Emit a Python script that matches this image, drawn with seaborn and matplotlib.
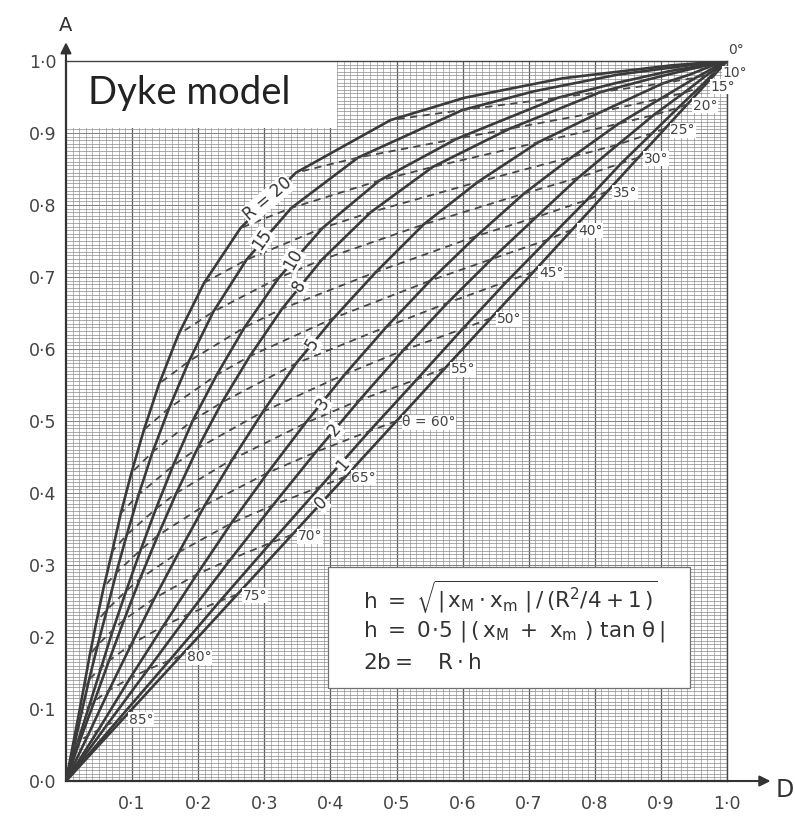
import numpy as np
import pandas as pd
import matplotlib
matplotlib.use('Agg')
import matplotlib.pyplot as plt
from matplotlib.patches import Rectangle
from matplotlib.ticker import MultipleLocator
import seaborn as sns

# dip angle theta (deg) of every point on the R curves
theta_deg = [0, 2.5, 5, 7.5, 10, 15, 20, 25, 30, 35, 40, 45, 50, 55, 60, 65, 70, 75, 80, 85, 90]
# theta lines that are drawn dashed and labelled
theta_lines = [10, 15, 20, 25, 30, 35, 40, 45, 50, 55, 60, 65, 70, 75, 80, 85]
r_values = [0, 1, 2, 3, 5, 8, 10, 15, 20]

d_r0 = [1.0, 0.999, 0.996, 0.991, 0.985, 0.966, 0.940, 0.906, 0.866, 0.819, 0.766, 0.707, 0.643, 0.574, 0.500, 0.423, 0.342, 0.259, 0.174, 0.087, 0.0]
a_r0 = [1.0, 0.999, 0.996, 0.991, 0.985, 0.966, 0.940, 0.906, 0.866, 0.819, 0.766, 0.707, 0.643, 0.574, 0.500, 0.423, 0.342, 0.259, 0.174, 0.087, 0.0]
d_r1 = [1.0, 0.999, 0.995, 0.989, 0.981, 0.958, 0.926, 0.887, 0.840, 0.788, 0.729, 0.667, 0.600, 0.531, 0.459, 0.385, 0.310, 0.233, 0.156, 0.078, 0.0]
a_r1 = [1.0, 0.999, 0.996, 0.991, 0.984, 0.963, 0.935, 0.900, 0.858, 0.807, 0.752, 0.694, 0.628, 0.558, 0.486, 0.409, 0.331, 0.250, 0.167, 0.084, 0.0]
d_r2 = [1.0, 0.998, 0.992, 0.983, 0.970, 0.935, 0.889, 0.835, 0.775, 0.711, 0.644, 0.577, 0.510, 0.444, 0.378, 0.313, 0.249, 0.186, 0.124, 0.062, 0.0]
a_r2 = [1.0, 0.999, 0.996, 0.989, 0.981, 0.956, 0.925, 0.884, 0.838, 0.783, 0.725, 0.664, 0.598, 0.529, 0.457, 0.383, 0.308, 0.232, 0.155, 0.078, 0.0]
d_r3 = [1.0, 0.997, 0.988, 0.973, 0.953, 0.900, 0.836, 0.766, 0.693, 0.621, 0.551, 0.485, 0.422, 0.362, 0.305, 0.250, 0.198, 0.147, 0.097, 0.049, 0.0]
a_r3 = [1.0, 0.999, 0.995, 0.987, 0.977, 0.948, 0.913, 0.867, 0.816, 0.757, 0.695, 0.631, 0.565, 0.497, 0.428, 0.358, 0.287, 0.215, 0.143, 0.071, 0.0]
d_r5 = [1.0, 0.993, 0.973, 0.943, 0.903, 0.811, 0.714, 0.623, 0.541, 0.469, 0.405, 0.348, 0.298, 0.252, 0.210, 0.171, 0.134, 0.099, 0.065, 0.033, 0.0]
a_r5 = [1.0, 0.998, 0.992, 0.981, 0.969, 0.930, 0.887, 0.832, 0.773, 0.707, 0.643, 0.580, 0.513, 0.447, 0.383, 0.318, 0.254, 0.190, 0.126, 0.063, 0.0]
d_r8 = [1.0, 0.984, 0.941, 0.879, 0.809, 0.671, 0.555, 0.461, 0.387, 0.327, 0.278, 0.236, 0.199, 0.167, 0.139, 0.112, 0.088, 0.065, 0.043, 0.021, 0.0]
a_r8 = [1.0, 0.997, 0.988, 0.974, 0.957, 0.906, 0.853, 0.790, 0.724, 0.656, 0.590, 0.526, 0.462, 0.400, 0.341, 0.281, 0.224, 0.167, 0.111, 0.056, 0.0]
d_r10 = [1.0, 0.976, 0.913, 0.830, 0.744, 0.591, 0.474, 0.388, 0.322, 0.270, 0.228, 0.192, 0.162, 0.136, 0.113, 0.091, 0.071, 0.053, 0.035, 0.017, 0.0]
a_r10 = [1.0, 0.996, 0.986, 0.969, 0.949, 0.892, 0.834, 0.768, 0.699, 0.630, 0.564, 0.501, 0.438, 0.378, 0.321, 0.264, 0.210, 0.157, 0.104, 0.052, 0.0]
d_r15 = [1.0, 0.950, 0.834, 0.708, 0.600, 0.442, 0.341, 0.273, 0.223, 0.186, 0.156, 0.131, 0.110, 0.092, 0.076, 0.062, 0.048, 0.035, 0.023, 0.012, 0.0]
a_r15 = [1.0, 0.995, 0.981, 0.958, 0.932, 0.866, 0.796, 0.724, 0.652, 0.583, 0.518, 0.457, 0.398, 0.342, 0.289, 0.238, 0.189, 0.141, 0.093, 0.047, 0.0]
d_r20 = [1.0, 0.916, 0.751, 0.603, 0.491, 0.348, 0.264, 0.209, 0.170, 0.141, 0.118, 0.099, 0.083, 0.070, 0.057, 0.046, 0.036, 0.027, 0.018, 0.009, 0.0]
a_r20 = [1.0, 0.994, 0.976, 0.949, 0.918, 0.845, 0.768, 0.692, 0.620, 0.552, 0.488, 0.428, 0.372, 0.319, 0.269, 0.221, 0.175, 0.130, 0.086, 0.043, 0.0]

x_ticks = [0.1, 0.2, 0.3, 0.4, 0.5, 0.6, 0.7, 0.8, 0.9, 1.0]
x_tick_labels = ['0·1', '0·2', '0·3', '0·4', '0·5', '0·6', '0·7', '0·8', '0·9', '1·0']
y_ticks = [0.0, 0.1, 0.2, 0.3, 0.4, 0.5, 0.6, 0.7, 0.8, 0.9, 1.0]
y_tick_labels = ['0·0', '0·1', '0·2', '0·3', '0·4', '0·5', '0·6', '0·7', '0·8', '0·9', '1·0']

# long table: one row per (R, theta) node of the nomogram
d_curves = [d_r0, d_r1, d_r2, d_r3, d_r5, d_r8, d_r10, d_r15, d_r20]
a_curves = [a_r0, a_r1, a_r2, a_r3, a_r5, a_r8, a_r10, a_r15, a_r20]
rows = []
for r, ds, As in zip(r_values, d_curves, a_curves):
    for t, d, a in zip(theta_deg, ds, As):
        rows.append({'R': r, 'theta': t, 'D': d, 'A': a})
df = pd.DataFrame(rows)
df_theta = df[df['theta'].isin(theta_lines)].sort_values(['theta', 'R'])

sns.set_style('white')
plt.rcParams['font.family'] = ['DejaVu Sans']
plt.rcParams['mathtext.default'] = 'regular'

ink = '#3a3a3a'
fig = plt.figure(figsize=(7.95, 8.27), dpi=100)
ax = fig.add_axes([0.083, 0.0556, 0.8315, 0.8706])

# R curves (solid) and theta curves (dashed)
sns.lineplot(data=df, x='D', y='A', units='R', estimator=None, sort=False,
             color=ink, lw=1.9, legend=False, ax=ax, zorder=3)
sns.lineplot(data=df_theta, x='D', y='A', units='theta', estimator=None, sort=False,
             color='#474747', lw=1.3, linestyle=(0, (4, 3)), legend=False, ax=ax, zorder=3)

ax.set_xlim(0, 1)
ax.set_ylim(0, 1)
ax.set_xlabel('')
ax.set_ylabel('')

# graph paper
ax.set_axisbelow(True)
ax.xaxis.set_minor_locator(MultipleLocator(0.01))
ax.yaxis.set_minor_locator(MultipleLocator(0.005))
ax.grid(which='minor', axis='x', color='#9a9a9a', lw=0.5)
ax.grid(which='minor', axis='y', color='#8a8a8a', lw=0.5)
ax.grid(which='major', axis='x', color='#5e5e5e', lw=0.9)
ax.grid(which='major', axis='y', color='#808080', lw=0.7)
ax.set_xticks(x_ticks)
ax.set_xticklabels(x_tick_labels, fontsize=12.5, color='#444')
ax.set_yticks(y_ticks)
ax.set_yticklabels(y_tick_labels, fontsize=12.5, color='#444')
ax.tick_params(which='both', length=0)
ax.tick_params(axis='x', pad=10)
ax.tick_params(axis='y', pad=7)
for side in ['left', 'bottom']:
    ax.spines[side].set_color('#333')
    ax.spines[side].set_linewidth(1.6)
for side in ['top', 'right']:
    ax.spines[side].set_color('#444')
    ax.spines[side].set_linewidth(1.0)

# axis arrows and names
arrow = dict(arrowstyle='-|>', color='#333', lw=1.5, mutation_scale=16)
ax.annotate('', xy=(0, 1.03), xytext=(0, 0.995), arrowprops=arrow, annotation_clip=False)
ax.annotate('', xy=(1.07, 0), xytext=(0.995, 0), arrowprops=arrow, annotation_clip=False)
ax.text(0.0, 1.05, 'A', fontsize=14, color='#333', ha='center', va='center', clip_on=False)
ax.text(1.088, -0.012, 'D', fontsize=17, color='#333', ha='center', va='center', clip_on=False)

# white boxes
ax.add_patch(Rectangle((0.0, 0.907), 0.41, 0.093, fc='white', ec='none', zorder=2))
ax.text(0.033, 0.955, 'Dyke model', fontsize=27.5, family='Lato', color='#222',
        ha='left', va='center', zorder=4)
ax.add_patch(Rectangle((0.396, 0.129), 0.548, 0.168, fc='white', ec='#707070', lw=0.9, zorder=2))
ax.text(0.450, 0.256, r'$h\ =\ \sqrt{|\,x_M\cdot x_m\ |\,/\,(R^2/4+1\,)}$',
        fontsize=15.5, color='#333', ha='left', va='center', zorder=4)
ax.text(0.450, 0.207, r'$h\ =\ 0\!\cdot\!5\ |\,(\,x_M\ +\ x_m\ )\ tan\ \theta\,|$',
        fontsize=15.5, color='#333', ha='left', va='center', zorder=4)
ax.text(0.450, 0.164, r'$2b =\ \ \ R\cdot h$',
        fontsize=15.5, color='#333', ha='left', va='center', zorder=4)

# R labels along the curves
r_labels = {20: ('R = 20', 0.305, 0.808, 40), 15: ('15', 0.296, 0.752, 55),
            10: ('10', 0.343, 0.724, 60), 8: ('8', 0.352, 0.688, 60),
            5: ('5', 0.373, 0.607, 58), 3: ('3', 0.388, 0.524, 55),
            2: ('2', 0.406, 0.488, 50), 1: ('1', 0.418, 0.440, 50),
            0: ('0', 0.386, 0.386, 45)}
for r, (txt, x, y, rot) in r_labels.items():
    ax.text(x, y, txt, fontsize=12, color='#333', rotation=rot, ha='center', va='center',
            zorder=5, bbox=dict(fc='white', ec='none', pad=0.6))

# theta labels at the R = 0 end of each dashed line
for t in [0] + theta_lines:
    i = theta_deg.index(t)
    txt = 'θ = 60°' if t == 60 else f'{t}°'
    offset = (1, 8) if t == 0 else (4, -1)
    ax.annotate(txt, xy=(d_r0[i], a_r0[i]), xytext=offset, textcoords='offset points',
                fontsize=10, color='#444', ha='left', va='center', zorder=5,
                annotation_clip=False,
                bbox=dict(fc='white', ec='none', pad=0.4))

fig.savefig('out.png', dpi=100, facecolor='white')
